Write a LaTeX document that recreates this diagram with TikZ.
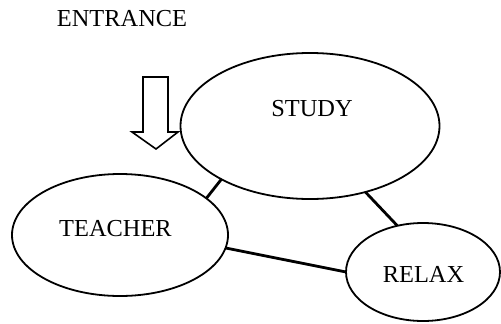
\documentclass[tikz,border=0pt]{standalone}
\usepackage{fontspec}
\setmainfont{Liberation Serif}
\usepackage{tikz}
\usetikzlibrary{shapes.geometric}

\begin{document}
\begin{tikzpicture}[x=1pt, y=-1pt,
    bubble/.style={draw, ellipse, line width=1.8pt, inner sep=0pt, outer sep=0pt},
    word/.style={anchor=base, font=\fontsize{24.4}{29}\selectfont},
    link/.style={line width=2.8pt}]
    \useasboundingbox (0,0) rectangle (501,324);

    % Title
    \node[word] (entr) at (122,27) {ENTRANCE};

    % Entrance arrow
    \draw[line width=1.6pt, line join=miter]
        (143,77) -- (168,77) -- (168,132) -- (178,132) -- (156,149)
        -- (132,132) -- (143,132) -- cycle;

    % Ellipses
    \node[bubble, minimum width=259pt, minimum height=146pt] (study) at (310,126) {};
    \node[bubble, minimum width=216pt, minimum height=122pt] (teacher) at (120,235) {};
    \node[bubble, minimum width=154pt, minimum height=98pt] (relax) at (423,272) {};

    % Labels
    \node[word] (studytxt) at (312,116) {STUDY};
    \node[word] (teachertxt) at (115.5,236) {TEACHER};
    \node[word] (relaxtxt) at (423.5,282) {RELAX};

    % Connections
    \draw[link] (study.211) -- (teacher.23);
    \draw[link] (study.310) -- (relax.119);
    \draw[link] (teacher.353) -- (relax.180);
\end{tikzpicture}
\end{document}
